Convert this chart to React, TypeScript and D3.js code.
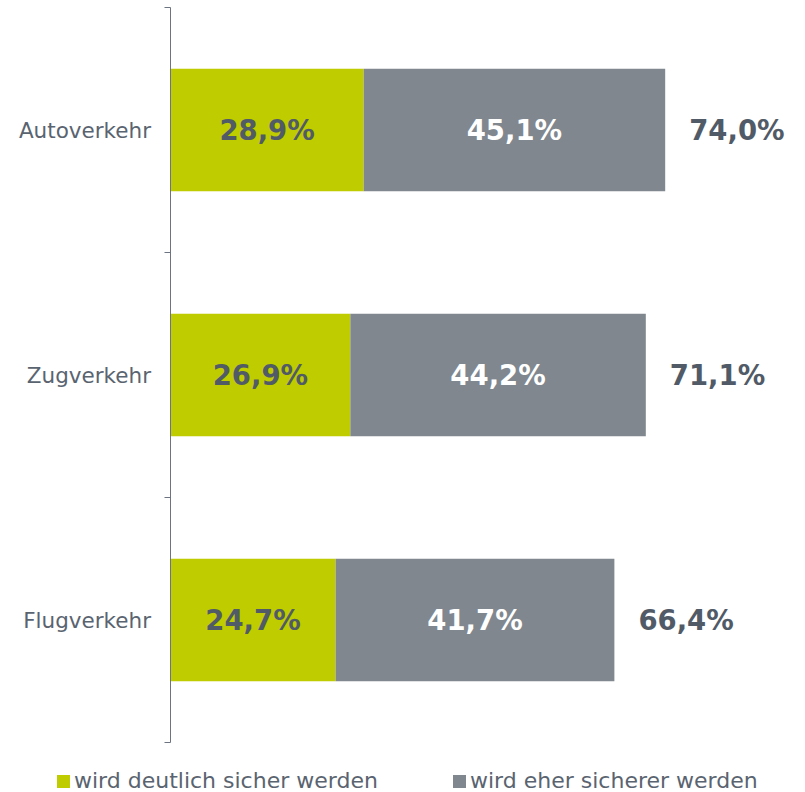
import { useEffect, useRef } from 'react';
import * as d3 from 'd3';

// chart data
const categories = ['Autoverkehr', 'Zugverkehr', 'Flugverkehr'];
const deutlich = [28.9, 26.9, 24.7];
const eher = [45.1, 44.2, 41.7];
const totals = [74.0, 71.1, 66.4];
const seriesNames = ['wird deutlich sicher werden', 'wird eher sicherer werden'];

const fmt = (v: number) => v.toFixed(1).replace('.', ',') + '%';

export default function App() {
    const ref = useRef<SVGSVGElement>(null);

    useEffect(() => {
        const width = 805;
        const height = 792;
        const axisX = 170.5;
        const green = '#bfcc00';
        const grey = '#80878f';
        const darkText = '#515b67';
        const font = '"DejaVu Sans", Verdana, sans-serif';

        const svg = d3.select(ref.current);
        svg.selectAll('*').remove();

        // scales
        const y = d3.scaleBand<string>()
            .domain(categories)
            .range([7.5, 742.5])
            .paddingInner(0.5)
            .paddingOuter(0.25);

        const x = d3.scaleLinear()
            .domain([0, 100])
            .range([axisX, axisX + 668.5]);

        // rows
        const rows = categories.map((c, i) => ({
            cat: c, a: deutlich[i], b: eher[i], total: totals[i]
        }));

        const g = svg.append('g');

        // green segments
        g.selectAll('.bar-a')
            .data(rows).enter()
            .append('rect')
            .attr('class', 'bar-a')
            .attr('x', x(0))
            .attr('y', d => y(d.cat)!)
            .attr('width', d => x(d.a) - x(0))
            .attr('height', y.bandwidth())
            .attr('fill', green);

        // grey segments
        g.selectAll('.bar-b')
            .data(rows).enter()
            .append('rect')
            .attr('class', 'bar-b')
            .attr('x', d => x(d.a))
            .attr('y', d => y(d.cat)!)
            .attr('width', d => x(d.a + d.b) - x(d.a))
            .attr('height', y.bandwidth())
            .attr('fill', grey);

        const mid = (d: { cat: string }) => y(d.cat)! + y.bandwidth() / 2;

        // labels inside bars
        g.selectAll('.lab-a')
            .data(rows).enter()
            .append('text')
            .attr('x', d => (x(0) + x(d.a)) / 2)
            .attr('y', mid)
            .attr('dy', '0.37em')
            .attr('text-anchor', 'middle')
            .style('font-family', font)
            .style('font-size', '27.5px')
            .style('font-weight', 'bold')
            .attr('fill', darkText)
            .text(d => fmt(d.a));

        g.selectAll('.lab-b')
            .data(rows).enter()
            .append('text')
            .attr('x', d => (x(d.a) + x(d.a + d.b)) / 2)
            .attr('y', mid)
            .attr('dy', '0.37em')
            .attr('text-anchor', 'middle')
            .style('font-family', font)
            .style('font-size', '27.5px')
            .style('font-weight', 'bold')
            .attr('fill', '#ffffff')
            .text(d => fmt(d.b));

        // totals
        g.selectAll('.lab-t')
            .data(rows).enter()
            .append('text')
            .attr('x', d => x(d.a + d.b) + 24)
            .attr('y', mid)
            .attr('dy', '0.37em')
            .attr('text-anchor', 'start')
            .style('font-family', font)
            .style('font-size', '27.5px')
            .style('font-weight', 'bold')
            .attr('fill', darkText)
            .text(d => fmt(d.total));

        // y axis
        const axis = g.append('g');
        axis.append('line')
            .attr('x1', axisX).attr('x2', axisX)
            .attr('y1', 7.5).attr('y2', 742.5)
            .attr('stroke', '#6b7480');
        const step = y.step();
        const tickYs = d3.range(categories.length + 1).map(i => y.range()[0] + i * step);
        axis.selectAll('.tick')
            .data(tickYs).enter()
            .append('line')
            .attr('x1', axisX - 6).attr('x2', axisX)
            .attr('y1', d => d).attr('y2', d => d)
            .attr('stroke', '#6b7480');

        axis.selectAll('.cat')
            .data(categories).enter()
            .append('text')
            .attr('x', 151)
            .attr('y', d => y(d)! + y.bandwidth() / 2)
            .attr('dy', '0.37em')
            .attr('text-anchor', 'end')
            .style('font-family', font)
            .style('font-size', '21.5px')
            .attr('fill', '#5a6470')
            .text(d => d);

        // legend
        const legendX = [57, 453];
        const legend = svg.append('g');
        seriesNames.forEach((name, i) => {
            legend.append('rect')
                .attr('x', legendX[i])
                .attr('y', 775)
                .attr('width', 13)
                .attr('height', 13)
                .attr('fill', i === 0 ? green : grey);
            legend.append('text')
                .attr('x', legendX[i] + 17)
                .attr('y', 788)
                .style('font-family', font)
                .style('font-size', '22px')
                .attr('fill', '#5a6470')
                .text(name);
        });

        svg.attr('width', width).attr('height', height);
    }, []);

    return (
        <svg ref={ref} width={805} height={792}
            style={{ position: 'absolute', left: 0, top: 0, background: '#fff' }} />
    );
}
